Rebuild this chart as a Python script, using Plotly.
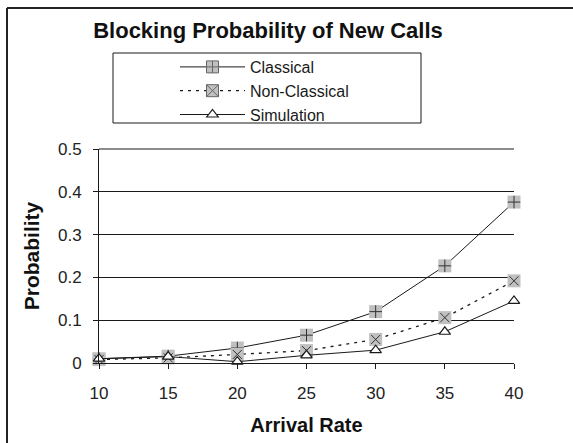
import plotly.graph_objects as go

# Arrival rates (x categories) and blocking probabilities per model
arrival_rate = [10, 15, 20, 25, 30, 35, 40]
classical = [0.010, 0.016, 0.035, 0.065, 0.120, 0.227, 0.376]
non_classical = [0.008, 0.012, 0.020, 0.029, 0.055, 0.106, 0.192]
simulation = [0.010, 0.015, 0.003, 0.018, 0.030, 0.073, 0.145]
y_ticks = [0, 0.1, 0.2, 0.3, 0.4, 0.5]
y_tick_text = ["0", "0.1", "0.2", "0.3", "0.4", "0.5"]

FONT = "Liberation Sans, Arial, sans-serif"
GRAY = "#c0c0c0"
INK = "#1a1a1a"
MARK = "#333333"

fig = go.Figure()

# Classical: solid line with grey square badge and a plus sign on top
fig.add_trace(go.Scatter(
    x=arrival_rate, y=classical, mode="lines+markers", showlegend=False,
    line=dict(color=INK, width=1),
    marker=dict(symbol="square", size=13, color=GRAY, line=dict(width=0)),
    cliponaxis=False))
fig.add_trace(go.Scatter(
    x=arrival_rate, y=classical, mode="markers", showlegend=False,
    marker=dict(symbol="cross-thin-open", size=9, color=MARK, line=dict(color=MARK, width=1)),
    cliponaxis=False))

# Non-Classical: dashed line with grey square badge and an x on top
fig.add_trace(go.Scatter(
    x=arrival_rate, y=non_classical, mode="lines+markers", showlegend=False,
    line=dict(color=INK, width=1.3, dash="3px,5px"),
    marker=dict(symbol="square", size=13, color=GRAY, line=dict(width=0)),
    cliponaxis=False))
fig.add_trace(go.Scatter(
    x=arrival_rate, y=non_classical, mode="markers", showlegend=False,
    marker=dict(symbol="x-thin-open", size=9, color=MARK, line=dict(color=MARK, width=1)),
    cliponaxis=False))

# Legend entries for the two badge-style series
fig.add_trace(go.Scatter(
    x=[None], y=[None], mode="lines+markers", name="Classical",
    line=dict(color=INK, width=1),
    marker=dict(symbol="square-cross", size=12, color=GRAY, line=dict(color="#666666", width=1))))
fig.add_trace(go.Scatter(
    x=[None], y=[None], mode="lines+markers", name="Non-Classical",
    line=dict(color=INK, width=1.3, dash="3px,5px"),
    marker=dict(symbol="square-x", size=12, color=GRAY, line=dict(color="#666666", width=1))))

# Simulation: solid line with open triangles
fig.add_trace(go.Scatter(
    x=arrival_rate, y=simulation, mode="lines+markers", name="Simulation",
    line=dict(color=INK, width=1),
    marker=dict(symbol="triangle-up", size=10, color="white", line=dict(color=INK, width=1.2)),
    cliponaxis=False))

W, H = 573, 443
L, R, T, B = 99, 59, 149, 80
pw, ph = W - L - R, H - T - B


def px_x(p):
    return (p - L) / pw


def px_y(p):
    return (H - B - p) / ph


fig.update_layout(
    width=W, height=H,
    margin=dict(l=L, r=R, t=T, b=B),
    paper_bgcolor="white", plot_bgcolor="white",
    font=dict(family=FONT, size=17, color=INK),
    title=dict(text="<b>Blocking Probability of New Calls</b>",
               x=268 / W, xanchor="center", y=1 - 30 / H, yanchor="middle",
               font=dict(family=FONT, size=22, color="#111111")),
    showlegend=True,
    legend=dict(x=px_x(175), y=px_y(50), xanchor="left", yanchor="top",
                bgcolor="rgba(0,0,0,0)", borderwidth=0,
                itemwidth=65, tracegroupgap=0,
                font=dict(family=FONT, size=16, color=INK)),
    xaxis=dict(range=[10, 40], tickvals=arrival_rate,
               ticktext=[str(v) for v in arrival_rate],
               showgrid=False, zeroline=False,
               showline=True, linecolor=INK, linewidth=1,
               ticks="outside", ticklen=5, tickcolor=INK,
               ticklabelstandoff=10,
               tickfont=dict(size=17, color="#222222"),
               title=dict(text="<b>Arrival Rate</b>", standoff=15,
                          font=dict(size=20, color="#111111"))),
    yaxis=dict(range=[0, y_ticks[-1]], tickvals=y_ticks, ticktext=y_tick_text,
               showgrid=True, gridcolor=INK, gridwidth=1, zeroline=False,
               showline=True, linecolor=INK, linewidth=1,
               ticks="outside", ticklen=5, tickcolor=INK,
               ticklabelstandoff=8,
               tickfont=dict(size=17, color="#222222"),
               title=dict(text="<b>Probability</b>", standoff=12,
                          font=dict(size=21, color="#111111"))),
    shapes=[
        # top gridline: the value range ends at the last tick, i.e. the top of the plot area
        dict(type="line", xref="paper", yref="paper",
             x0=0, x1=1, y0=1, y1=1,
             line=dict(color=INK, width=1), layer="above"),
        # legend frame
        dict(type="rect", xref="paper", yref="paper",
             x0=px_x(113), x1=px_x(421), y0=px_y(123), y1=px_y(53),
             line=dict(color=INK, width=1), fillcolor="rgba(0,0,0,0)", layer="below"),
        # outer chart frame (left and top edges)
        dict(type="line", xref="paper", yref="paper",
             x0=px_x(7), x1=px_x(7), y0=px_y(460), y1=px_y(8),
             line=dict(color="#222222", width=2)),
        dict(type="line", xref="paper", yref="paper",
             x0=px_x(7), x1=px_x(590), y0=px_y(8), y1=px_y(8),
             line=dict(color="#222222", width=2)),
    ],
)

fig.write_html("out.html")
